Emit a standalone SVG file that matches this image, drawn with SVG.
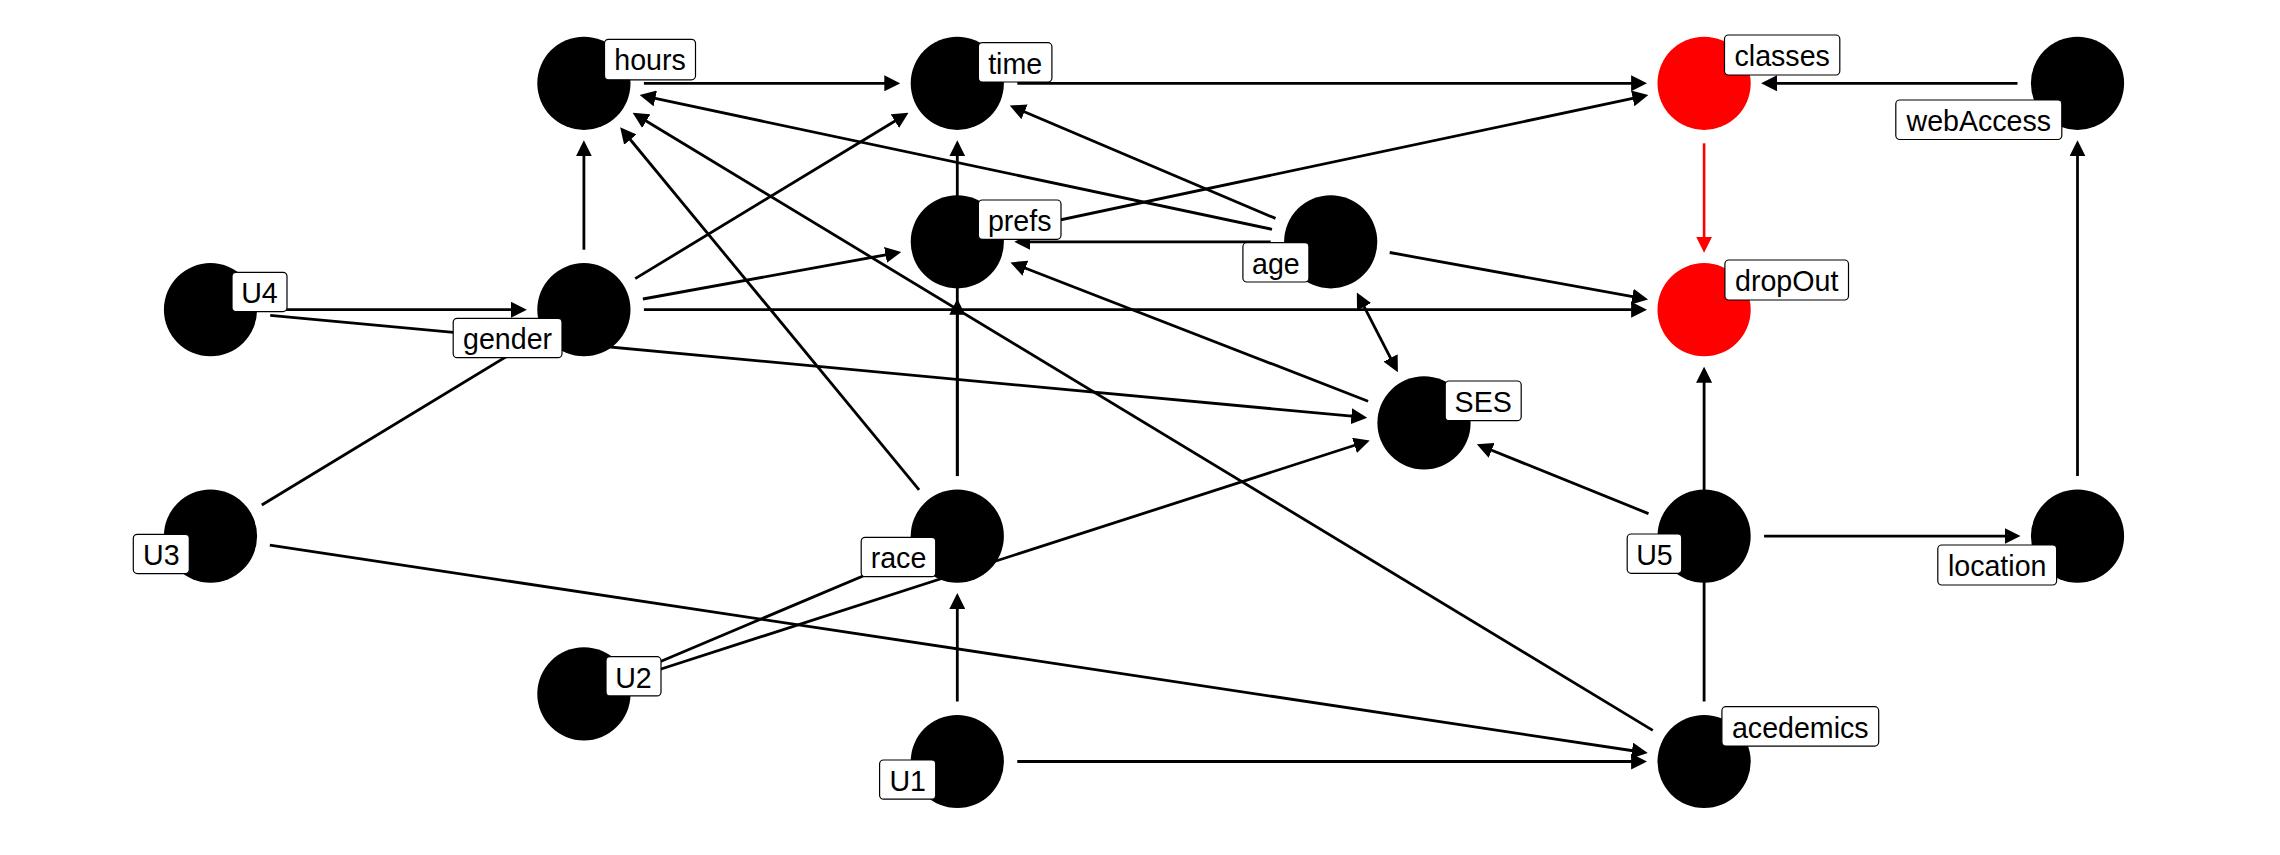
<svg xmlns="http://www.w3.org/2000/svg" width="2280" height="855" viewBox="0 0 2280 855">
<style>
.e{stroke:#000;stroke-width:2.8;fill:none;marker-end:url(#ah)}
.r{stroke:#ff0000;stroke-width:2.6;fill:none;marker-end:url(#ahr)}
.bi{marker-start:url(#ah)}
.n{fill:#000}
.nr{fill:#ff0000}
.lb{fill:#fff;stroke:#000;stroke-width:1.2}
text{font-family:"Liberation Sans",Arial,Helvetica,sans-serif;font-size:28.6px;fill:#000;text-anchor:middle}
</style>
<defs>
<marker id="ah" viewBox="0 -8 16 16" markerWidth="16" markerHeight="16" refX="6" refY="0" orient="auto-start-reverse" markerUnits="userSpaceOnUse"><path d="M0,-8 L16,0 L0,8 z" fill="#000"/></marker>
<marker id="ahr" viewBox="0 -8 16 16" markerWidth="16" markerHeight="16" refX="6" refY="0" orient="auto" markerUnits="userSpaceOnUse"><path d="M0,-8 L16,0 L0,8 z" fill="#ff0000"/></marker>
</defs>
<rect width="2280" height="855" fill="#fff"/>
<g id="edges">
<line class="e" x1="643.9" y1="83.3" x2="890.3" y2="83.3"/>
<line class="e" x1="1017.3" y1="83.3" x2="1637.1" y2="83.3"/>
<line class="e" x1="2017.5" y1="83.3" x2="1771.1" y2="83.3"/>
<line class="r" x1="1704.1" y1="143.3" x2="1704.1" y2="242.7"/>
<line class="e" x1="583.9" y1="249.7" x2="583.9" y2="150.3"/>
<line class="e" x1="635.2" y1="278.6" x2="900" y2="118"/>
<line class="e" x1="642.9" y1="299" x2="891.4" y2="253.8"/>
<line class="e" x1="643.9" y1="309.7" x2="1637.1" y2="309.7"/>
<line class="e" x1="270.5" y1="309.7" x2="516.9" y2="309.7"/>
<line class="e" x1="270.2" y1="315.3" x2="1357.3" y2="416.7"/>
<line class="e" x1="261.8" y1="505" x2="526.6" y2="344.4"/>
<line class="e" x1="269.8" y1="545.1" x2="1637.9" y2="751.5"/>
<line class="e" x1="639.2" y1="670.5" x2="895.6" y2="562.2"/>
<line class="e" x1="641" y1="675.5" x2="1360.2" y2="443.5"/>
<line class="e" x1="957.3" y1="701.5" x2="957.3" y2="603.1"/>
<line class="e" x1="1017.3" y1="761.5" x2="1637.1" y2="761.5"/>
<line class="e" x1="919.1" y1="489.8" x2="626.5" y2="135"/>
<line class="e" x1="957.3" y1="476.1" x2="957.3" y2="308.8"/>
<line class="e" x1="957.3" y1="476.1" x2="957.3" y2="150.3"/>
<line class="e" x1="1272" y1="229.3" x2="649.4" y2="97.2"/>
<line class="e" x1="1275.5" y1="218.4" x2="1019" y2="109.5"/>
<line class="e" x1="1270.7" y1="241.8" x2="1024.3" y2="241.8"/>
<line class="e" x1="1389.7" y1="252.5" x2="1638.2" y2="297.7"/>
<line class="e bi" x1="1361.4" y1="301.4" x2="1393.3" y2="363.3"/>
<line class="e" x1="1016" y1="229.3" x2="1638.6" y2="97.2"/>
<line class="e" x1="1368.1" y1="401.2" x2="1019.8" y2="266"/>
<line class="e" x1="1648.5" y1="513.6" x2="1486.1" y2="448"/>
<line class="e" x1="1764.1" y1="536.1" x2="2010.5" y2="536.1"/>
<line class="e" x1="2077.5" y1="476.1" x2="2077.5" y2="150.3"/>
<line class="e" x1="1704.1" y1="701.5" x2="1704.1" y2="376.7"/>
<line class="e" x1="1652.8" y1="730.4" x2="641.2" y2="118"/>
</g>
<g id="hours"><circle class="n" cx="583.9" cy="83.3" r="46.6"/><rect class="lb" x="604.5" y="39.3" width="91" height="40.5" rx="4"/><text x="650" y="70.3">hours</text></g>
<g id="time"><circle class="n" cx="957.3" cy="83.3" r="46.6"/><rect class="lb" x="978.4" y="42.7" width="73.5" height="39.3" rx="4"/><text x="1015.2" y="73.5">time</text></g>
<g id="classes"><circle class="nr" cx="1704.1" cy="83.3" r="46.6"/><rect class="lb" x="1724.5" y="35" width="115.3" height="40" rx="4"/><text x="1782.2" y="65.8">classes</text></g>
<g id="webAccess"><circle class="n" cx="2077.5" cy="83.3" r="46.6"/><rect class="lb" x="1895.8" y="100" width="166" height="39.5" rx="4"/><text x="1978.8" y="130.8">webAccess</text></g>
<g id="prefs"><circle class="n" cx="957.3" cy="241.8" r="46.6"/><rect class="lb" x="978.4" y="200" width="82.6" height="39.3" rx="4"/><text x="1019.7" y="230.8">prefs</text></g>
<g id="age"><circle class="n" cx="1330.7" cy="241.8" r="46.6"/><rect class="lb" x="1242.9" y="242.7" width="66" height="39.3" rx="4"/><text x="1275.9" y="273.5">age</text></g>
<g id="U4"><circle class="n" cx="210.5" cy="309.7" r="46.6"/><rect class="lb" x="232" y="272.3" width="55" height="39.3" rx="4"/><text x="259.5" y="303.1">U4</text></g>
<g id="gender"><circle class="n" cx="583.9" cy="309.7" r="46.6"/><rect class="lb" x="453.2" y="318.3" width="108.8" height="39.4" rx="4"/><text x="507.6" y="349.1">gender</text></g>
<g id="dropOut"><circle class="nr" cx="1704.1" cy="309.7" r="46.6"/><rect class="lb" x="1724.9" y="260" width="123.6" height="40" rx="4"/><text x="1786.7" y="290.8">dropOut</text></g>
<g id="SES"><circle class="n" cx="1424" cy="422.9" r="46.6"/><rect class="lb" x="1445.2" y="381" width="76" height="39.7" rx="4"/><text x="1483.2" y="411.8">SES</text></g>
<g id="U3"><circle class="n" cx="210.5" cy="536.1" r="46.6"/><rect class="lb" x="133.3" y="534.3" width="56" height="39.3" rx="4"/><text x="161.3" y="565.1">U3</text></g>
<g id="race"><circle class="n" cx="957.3" cy="536.1" r="46.6"/><rect class="lb" x="861.2" y="537.3" width="74.5" height="39.4" rx="4"/><text x="898.5" y="568.1">race</text></g>
<g id="U5"><circle class="n" cx="1704.1" cy="536.1" r="46.6"/><rect class="lb" x="1627.2" y="534" width="54.5" height="39.3" rx="4"/><text x="1654.5" y="564.8">U5</text></g>
<g id="location"><circle class="n" cx="2077.5" cy="536.1" r="46.6"/><rect class="lb" x="1937.8" y="545" width="118.8" height="40" rx="4"/><text x="1997.2" y="575.8">location</text></g>
<g id="U2"><circle class="n" cx="583.9" cy="693.9" r="46.6"/><rect class="lb" x="606" y="656.7" width="55" height="39.2" rx="4"/><text x="633.5" y="687.5">U2</text></g>
<g id="U1"><circle class="n" cx="957.3" cy="761.5" r="46.6"/><rect class="lb" x="879.6" y="760" width="56.1" height="39.2" rx="4"/><text x="907.7" y="790.8">U1</text></g>
<g id="acedemics"><circle class="n" cx="1704.1" cy="761.5" r="46.6"/><rect class="lb" x="1721.9" y="706.7" width="156.8" height="39.4" rx="4"/><text x="1800.3" y="737.5">acedemics</text></g>
</svg>
